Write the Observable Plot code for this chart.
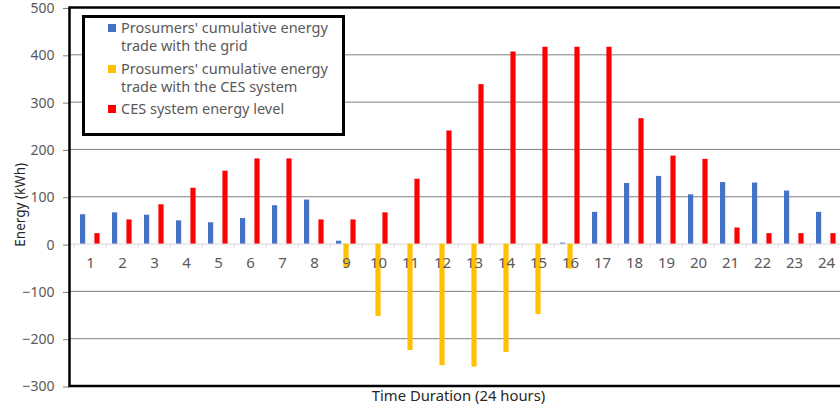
<!DOCTYPE html>
<html>
<head>
<meta charset="utf-8">
<script src="https://cdn.jsdelivr.net/npm/d3@7"></script>
<script src="https://cdn.jsdelivr.net/npm/@observablehq/plot@0.6"></script>
<style>
  html, body { margin: 0; padding: 0; background: #fff; overflow: hidden; width: 840px; height: 412px; }
  #wrap { position: relative; width: 848px; height: 412px; }
  #wrap svg { display: block; }
  #legend {
    position: absolute; left: 82px; top: 15px; width: 257px; height: 115px;
    border: 3px solid #000; background: #fff; box-sizing: content-box;
    font-family: "Noto Sans", sans-serif; font-size: 14.5px; color: #595959; line-height: 18.3px;
  }
  .item { position: absolute; left: 36px; }
  .sw { position: absolute; left: -13px; top: 6px; width: 7.5px; height: 7.5px; }
</style>
</head>
<body>
<div id="wrap"></div>
<script>
const hours = [1,2,3,4,5,6,7,8,9,10,11,12,13,14,15,16,17,18,19,20,21,22,23,24];
const gridTrade = [62,66,61,49,45,54,81,93,6,0,0,0,0,0,0,2,67,128,143,104,130,129,112,67];
const cesTrade  = [0,0,0,0,0,0,0,0,-50,-153,-225,-257,-260,-229,-149,-53,0,0,0,0,0,0,0,0];
const cesLevel  = [22,51,83,118,154,180,180,51,51,66,137,239,337,406,416,416,416,265,186,179,34,22,22,22];
const seriesNames = [
  "Prosumers' cumulative energy trade with the grid",
  "Prosumers' cumulative energy trade with the CES system",
  "CES system energy level"
];
const seriesColors = ["#4472C4", "#FFC000", "#FF0000"];
const yTicks = [-300,-200,-100,0,100,200,300,400,500];
const gridValues = [400,300,200,100,-100,-200];
const xTitle = "Time Duration (24 hours)";
const yTitle = "Energy (kWh)";

const W = 848, ML = 69, MR = 1;
const step = (W - ML - MR) / hours.length;
const inset = (step - 5.6) / 2;
const font = "Noto Sans, sans-serif";

const rows = (vals) => hours.map((h, i) => ({hour: h, value: vals[i]}));

const chart = Plot.plot({
  width: W, height: 412,
  marginLeft: ML, marginRight: MR, marginTop: 7, marginBottom: 26.5,
  style: {fontFamily: font, background: "#fff"},
  x: {type: "band", domain: hours, padding: 0, axis: null},
  y: {domain: [-300, 500], axis: null},
  marks: [
    Plot.ruleY(gridValues, {stroke: "#7f7f7f", strokeWidth: 1}),
    Plot.ruleY([0], {stroke: "#d9d9d9", strokeWidth: 1}),
    Plot.ruleX(hours, {x: d => d, y1: 0, y2: -9, dx: -step / 2, stroke: "#d9d9d9"}),
    Plot.barY(rows(gridTrade), {x: "hour", y: "value", fill: seriesColors[0], insetLeft: inset, insetRight: inset, dx: -7.4}),
    Plot.barY(rows(cesTrade), {x: "hour", y: "value", fill: seriesColors[1], insetLeft: inset, insetRight: inset}),
    Plot.barY(rows(cesLevel), {x: "hour", y: "value", fill: seriesColors[2], insetLeft: inset, insetRight: inset, dx: 7.0}),
    Plot.text(hours, {x: d => d, y: 0, text: d => String(d), dy: 19, fontSize: 15, fill: "#595959"}),
    Plot.axisY({ticks: yTicks, tickSize: 6, tickPadding: 9, fontSize: 14, dy: 1, fill: "#595959", stroke: "#7f7f7f", label: null}),
    Plot.text([yTitle], {frameAnchor: "left", textAnchor: "middle", lineAnchor: "middle", rotate: -90, dx: -49, dy: 8, fontSize: 13.5, fill: "#262626"}),
    Plot.text([xTitle], {frameAnchor: "bottom", textAnchor: "middle", dy: 15, fontSize: 14.8, fill: "#262626"}),
    Plot.frame({stroke: "#000", strokeWidth: 2.5})
  ]
});

const wrap = document.getElementById("wrap");
wrap.appendChild(chart);

const legend = document.createElement("div");
legend.id = "legend";
const tops = [0, 41, 81];
const lines = [
  ["Prosumers' cumulative energy", "trade with the grid"],
  ["Prosumers' cumulative energy", "trade with the CES system"],
  ["CES system energy level"]
];
lines.forEach((ls, i) => {
  const it = document.createElement("div");
  it.className = "item";
  it.style.top = tops[i] + "px";
  it.title = seriesNames[i];
  const sw = document.createElement("span");
  sw.className = "sw";
  sw.style.background = seriesColors[i];
  it.appendChild(sw);
  ls.forEach(t => { const d = document.createElement("div"); d.textContent = t; d.style.whiteSpace = "nowrap"; it.appendChild(d); });
  legend.appendChild(it);
});
wrap.appendChild(legend);
</script>
</body>
</html>
